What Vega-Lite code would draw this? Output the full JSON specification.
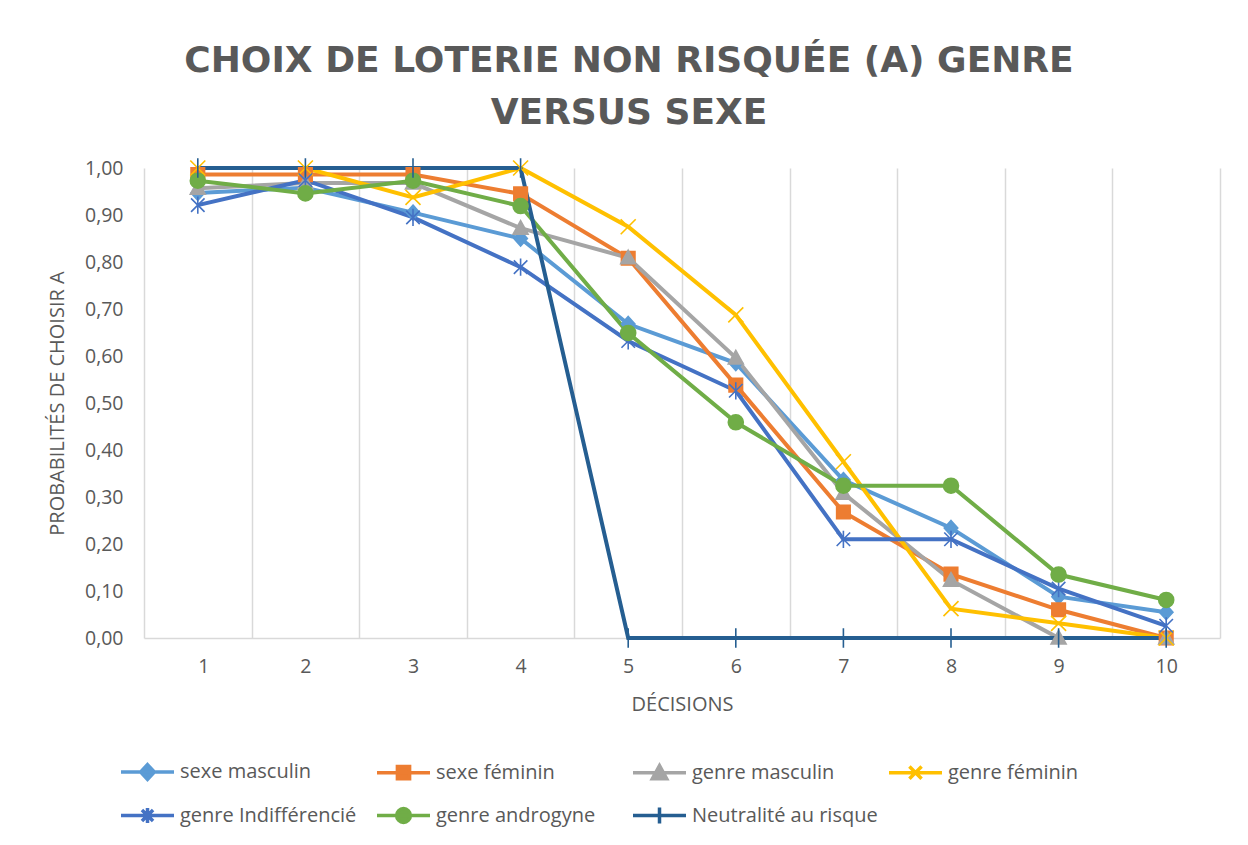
{
  "$schema": "https://vega.github.io/schema/vega-lite/v6.json",
  "width": 1076,
  "height": 470,
  "autosize": {"type": "none"},
  "padding": {"left": 144, "top": 168, "right": 28, "bottom": 207},
  "background": "white",
  "title": {
    "text": ["CHOIX DE LOTERIE NON RISQUÉE (A) GENRE", "VERSUS SEXE"],
    "font": "DejaVu Sans",
    "fontSize": 36,
    "fontWeight": "bold",
    "color": "#595959",
    "lineHeight": 52,
    "anchor": "middle",
    "dx": -53,
    "offset": 23
  },
  "config": {
    "font": "Open Sans",
    "view": {"stroke": null},
    "axis": {"labelColor": "#595959", "titleColor": "#595959", "labelFont": "Open Sans", "titleFont": "Open Sans", "titleFontWeight": "normal"}
  },
  "data": {
    "values": [
      {"d": 1, "serie": "sexe masculin", "p": 0.947},
      {"d": 2, "serie": "sexe masculin", "p": 0.958},
      {"d": 3, "serie": "sexe masculin", "p": 0.905},
      {"d": 4, "serie": "sexe masculin", "p": 0.85},
      {"d": 5, "serie": "sexe masculin", "p": 0.668},
      {"d": 6, "serie": "sexe masculin", "p": 0.585},
      {"d": 7, "serie": "sexe masculin", "p": 0.336},
      {"d": 8, "serie": "sexe masculin", "p": 0.234},
      {"d": 9, "serie": "sexe masculin", "p": 0.088},
      {"d": 10, "serie": "sexe masculin", "p": 0.055},
      {"d": 1, "serie": "sexe féminin", "p": 0.986},
      {"d": 2, "serie": "sexe féminin", "p": 0.986},
      {"d": 3, "serie": "sexe féminin", "p": 0.986},
      {"d": 4, "serie": "sexe féminin", "p": 0.945},
      {"d": 5, "serie": "sexe féminin", "p": 0.808},
      {"d": 6, "serie": "sexe féminin", "p": 0.538},
      {"d": 7, "serie": "sexe féminin", "p": 0.268},
      {"d": 8, "serie": "sexe féminin", "p": 0.136},
      {"d": 9, "serie": "sexe féminin", "p": 0.06},
      {"d": 10, "serie": "sexe féminin", "p": 0},
      {"d": 1, "serie": "genre masculin", "p": 0.957},
      {"d": 2, "serie": "genre masculin", "p": 0.968},
      {"d": 3, "serie": "genre masculin", "p": 0.968},
      {"d": 4, "serie": "genre masculin", "p": 0.872},
      {"d": 5, "serie": "genre masculin", "p": 0.809},
      {"d": 6, "serie": "genre masculin", "p": 0.596},
      {"d": 7, "serie": "genre masculin", "p": 0.308},
      {"d": 8, "serie": "genre masculin", "p": 0.123},
      {"d": 9, "serie": "genre masculin", "p": 0},
      {"d": 10, "serie": "genre masculin", "p": 0},
      {"d": 1, "serie": "genre féminin", "p": 1},
      {"d": 2, "serie": "genre féminin", "p": 1},
      {"d": 3, "serie": "genre féminin", "p": 0.9375},
      {"d": 4, "serie": "genre féminin", "p": 1},
      {"d": 5, "serie": "genre féminin", "p": 0.875},
      {"d": 6, "serie": "genre féminin", "p": 0.6875},
      {"d": 7, "serie": "genre féminin", "p": 0.375},
      {"d": 8, "serie": "genre féminin", "p": 0.0625},
      {"d": 9, "serie": "genre féminin", "p": 0.03125},
      {"d": 10, "serie": "genre féminin", "p": 0},
      {"d": 1, "serie": "genre Indifférencié", "p": 0.921},
      {"d": 2, "serie": "genre Indifférencié", "p": 0.974},
      {"d": 3, "serie": "genre Indifférencié", "p": 0.895},
      {"d": 4, "serie": "genre Indifférencié", "p": 0.789},
      {"d": 5, "serie": "genre Indifférencié", "p": 0.632},
      {"d": 6, "serie": "genre Indifférencié", "p": 0.526},
      {"d": 7, "serie": "genre Indifférencié", "p": 0.21},
      {"d": 8, "serie": "genre Indifférencié", "p": 0.21},
      {"d": 9, "serie": "genre Indifférencié", "p": 0.105},
      {"d": 10, "serie": "genre Indifférencié", "p": 0.026},
      {"d": 1, "serie": "genre androgyne", "p": 0.973},
      {"d": 2, "serie": "genre androgyne", "p": 0.946},
      {"d": 3, "serie": "genre androgyne", "p": 0.973},
      {"d": 4, "serie": "genre androgyne", "p": 0.919},
      {"d": 5, "serie": "genre androgyne", "p": 0.649},
      {"d": 6, "serie": "genre androgyne", "p": 0.459},
      {"d": 7, "serie": "genre androgyne", "p": 0.324},
      {"d": 8, "serie": "genre androgyne", "p": 0.324},
      {"d": 9, "serie": "genre androgyne", "p": 0.135},
      {"d": 10, "serie": "genre androgyne", "p": 0.081},
      {"d": 1, "serie": "Neutralité au risque", "p": 1},
      {"d": 2, "serie": "Neutralité au risque", "p": 1},
      {"d": 3, "serie": "Neutralité au risque", "p": 1},
      {"d": 4, "serie": "Neutralité au risque", "p": 1},
      {"d": 5, "serie": "Neutralité au risque", "p": 0},
      {"d": 6, "serie": "Neutralité au risque", "p": 0},
      {"d": 7, "serie": "Neutralité au risque", "p": 0},
      {"d": 8, "serie": "Neutralité au risque", "p": 0},
      {"d": 9, "serie": "Neutralité au risque", "p": 0},
      {"d": 10, "serie": "Neutralité au risque", "p": 0}
    ]
  },
  "encoding": {
    "x": {
      "field": "d",
      "type": "quantitative",
      "scale": {"domain": [0.5, 10.5], "nice": false, "zero": false},
      "axis": {
        "title": "DÉCISIONS",
        "titleFontSize": 20,
        "titlePadding": 19,
        "values": [0.5, 1.5, 2.5, 3.5, 4.5, 5.5, 6.5, 7.5, 8.5, 9.5, 10.5],
        "labelExpr": "datum.value < 10 ? format(datum.value + 0.5, 'd') : ''",
        "labelOffset": 53.8,
        "labelFontSize": 19.5,
        "labelPadding": 19,
        "ticks": false,
        "grid": true,
        "gridColor": "#D9D9D9",
        "gridWidth": 1.5,
        "domainColor": "#D9D9D9",
        "domainWidth": 1.5
      }
    },
    "y": {
      "field": "p",
      "type": "quantitative",
      "scale": {"domain": [0, 1], "nice": false},
      "axis": {
        "title": "PROBABILITÉS DE CHOISIR A",
        "titleFontSize": 20,
        "titlePadding": 17,
        "values": [0, 0.1, 0.2, 0.3, 0.4, 0.5, 0.6, 0.7, 0.8, 0.9, 1],
        "labelExpr": "replace(format(datum.value, '.2f'), '.', ',')",
        "labelFontSize": 19.5,
        "labelPadding": 21,
        "ticks": false,
        "domain": false,
        "grid": false
      }
    }
  },
  "layer": [
    {
      "mark": {"type": "line", "strokeWidth": 4},
      "encoding": {
        "color": {
          "field": "serie",
          "type": "nominal",
          "scale": {
            "domain": ["sexe masculin", "sexe féminin", "genre masculin", "genre féminin", "genre Indifférencié", "genre androgyne", "Neutralité au risque"],
            "range": ["#5B9BD5", "#ED7D31", "#A5A5A5", "#FFC000", "#4472C4", "#70AD47", "#255E91"]
          },
          "legend": {
            "orient": "none",
            "legendX": -25,
            "legendY": 575,
            "columns": 4,
            "gridAlign": "all",
            "direction": "horizontal",
            "title": null,
            "labelFont": "Open Sans",
            "labelFontSize": 20,
            "labelColor": "#595959",
            "labelOffset": 4,
            "labelLimit": 400,
            "columnPadding": 4,
            "rowPadding": 0,
            "symbolSize": 2809,
            "symbolStrokeWidth": 3.5,
            "encode": {
              "symbols": {
                "update": {
                  "shape": {"signal": "{'sexe masculin': 'M-1,0H1M0,-0.28L0.26,0L0,0.28L-0.26,0Z', 'sexe féminin': 'M-1,0H1M-0.23,-0.23H0.23V0.23H-0.23Z', 'genre masculin': 'M-1,0H1M0,-0.27L0.27,0.22H-0.27Z', 'genre féminin': 'M-1,0H1M-0.23,-0.23L0.23,0.23M-0.23,0.23L0.23,-0.23', 'genre Indifférencié': 'M-1,0H1M-0.21,-0.21L0.21,0.21M-0.21,0.21L0.21,-0.21M0,-0.28V0.28', 'genre androgyne': 'M-1,0H1M-0.26,0A0.26,0.26 0 1,0 0.26,0A0.26,0.26 0 1,0 -0.26,0Z', 'Neutralité au risque': 'M-1,0H1M0,-0.3V0.3'}[datum.value]"},
                  "fill": {"scale": "color", "field": "value"},
                  "stroke": {"scale": "color", "field": "value"},
                  "strokeWidth": {"value": 3.5},
                  "opacity": {"value": 1}
                }
              }
            }
          }
        }
      }
    },
    {
      "transform": [{"filter": "datum.serie === 'sexe masculin'"}],
      "mark": {"type": "point", "filled": true, "size": 225, "strokeWidth": 1.6, "opacity": 1, "color": "#5B9BD5", "stroke": "#5B9BD5", "shape": "M0,-1L0.9,0L0,1L-0.9,0Z"}
    },
    {
      "transform": [{"filter": "datum.serie === 'sexe féminin'"}],
      "mark": {"type": "point", "filled": true, "size": 225, "strokeWidth": 1.6, "opacity": 1, "color": "#ED7D31", "stroke": "#ED7D31", "shape": "M-0.9,-0.9H0.9V0.9H-0.9Z"}
    },
    {
      "transform": [{"filter": "datum.serie === 'genre masculin'"}],
      "mark": {"type": "point", "filled": true, "size": 225, "strokeWidth": 1.6, "opacity": 1, "color": "#A5A5A5", "stroke": "#A5A5A5", "shape": "M0,-1L1,0.8H-1Z"}
    },
    {
      "transform": [{"filter": "datum.serie === 'genre féminin'"}],
      "mark": {"type": "point", "filled": true, "size": 225, "strokeWidth": 1.6, "opacity": 1, "color": "#FFC000", "stroke": "#FFC000", "shape": "M-1,-1L1,1M-1,1L1,-1"}
    },
    {
      "transform": [{"filter": "datum.serie === 'genre Indifférencié'"}],
      "mark": {"type": "point", "filled": true, "size": 225, "strokeWidth": 1.6, "opacity": 1, "color": "#4472C4", "stroke": "#4472C4", "shape": "M-0.9,-0.9L0.9,0.9M-0.9,0.9L0.9,-0.9M0,-1.15V1.15"}
    },
    {
      "transform": [{"filter": "datum.serie === 'genre androgyne'"}],
      "mark": {"type": "point", "filled": true, "size": 225, "strokeWidth": 1.6, "opacity": 1, "color": "#70AD47", "stroke": "#70AD47", "shape": "M-1,0A1,1 0 1,0 1,0A1,1 0 1,0 -1,0Z"}
    },
    {
      "transform": [{"filter": "datum.serie === 'Neutralité au risque'"}],
      "mark": {"type": "point", "filled": true, "size": 225, "strokeWidth": 1.6, "opacity": 1, "color": "#255E91", "stroke": "#255E91", "shape": "M0,-1.3V1.3"}
    }
  ]
}
